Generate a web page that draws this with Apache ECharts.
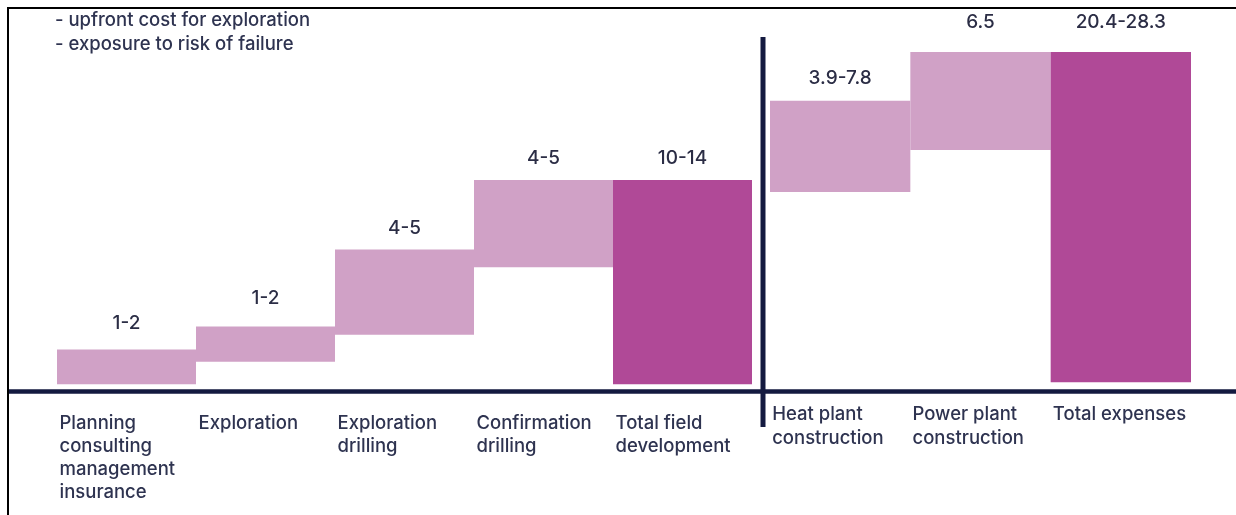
<!DOCTYPE html>
<html>
<head>
<meta charset="utf-8">
<script src="https://cdn.jsdelivr.net/npm/echarts@6/dist/echarts.min.js"></script>
<style>
html,body{margin:0;padding:0;background:#fff;}
#chart{width:1236px;height:515px;}
</style>
</head>
<body>
<div id="chart"></div>
<script>
// ---- data (schematic units) ----
const notes = ['- upfront cost for exploration', '- exposure to risk of failure'];
const leftCategories = ['Planning\nconsulting\nmanagement\ninsurance', 'Exploration', 'Exploration\ndrilling', 'Confirmation\ndrilling', 'Total field\ndevelopment'];
const leftLow = [0, 6.8, 14.9, 35.2, 0];
const leftHigh = [10.5, 17.4, 40.6, 61.5, 61.5];
const leftLabels = ['1-2', '1-2', '4-5', '4-5', '10-14'];
const leftIsTotal = [false, false, false, false, true];

const rightCategories = ['Heat plant\nconstruction', 'Power plant\nconstruction', 'Total expenses'];
const rightLow = [57.9, 70.5, 0.6];
const rightHigh = [85.3, 100, 100];
const rightLabels = ['3.9-7.8', '6.5', '20.4-28.3'];
const rightIsTotal = [false, false, true];

// ---- styles ----
const LIGHT = '#d0a1c6';
const DARK = '#b04997';
const NAVY = '#141a40';
const TEXT = '#2e3350';
const FONT = 'Inter';
const leftLabelDist = [17, 19, 12, 12, 12];
const rightLabelDist = [13, 20, 20];

function rangeData(low, high, labels, isTotal, dist) {
  return high.map((h, i) => ({
    value: +(h - low[i]).toFixed(2),
    itemStyle: { color: isTotal[i] ? DARK : LIGHT },
    label: { distance: dist[i] }
  }));
}

function makeSeries(axisIdx, low, high, labels, isTotal, dist, stack) {
  return [
    {
      type: 'bar', xAxisIndex: axisIdx, yAxisIndex: axisIdx, stack: stack,
      data: low, barWidth: '100%', silent: true,
      itemStyle: { color: 'transparent' }
    },
    {
      type: 'bar', xAxisIndex: axisIdx, yAxisIndex: axisIdx, stack: stack,
      data: rangeData(low, high, labels, isTotal, dist), barWidth: '100%',
      label: {
        show: true, position: 'top',
        formatter: p => labels[p.dataIndex],
        fontFamily: FONT, fontSize: 19, fontWeight: 500, color: '#2b2d45'
      }
    }
  ];
}

function catAxis(gridIndex, cats, margin, width, lh) {
  return {
    type: 'category', gridIndex: gridIndex, data: cats,
    axisLine: { show: false }, axisTick: { show: false },
    axisLabel: {
      margin: margin, interval: 0, verticalAlign: 'top',
      formatter: v => '{a|' + v + '}',
      rich: { a: { width: width, align: 'left', fontFamily: FONT, fontSize: 18.5, fontWeight: 500, lineHeight: lh, color: TEXT } }
    }
  };
}

function valAxis(gridIndex) {
  return {
    type: 'value', gridIndex: gridIndex, min: -2, max: 100,
    show: false, splitLine: { show: false }
  };
}

const chart = echarts.init(document.getElementById('chart'), null, { renderer: 'canvas' });
chart.setOption({
  animation: false,
  backgroundColor: '#fff',
  title: {
    text: notes.join('\n'), left: 55, top: 8, padding: 0,
    textStyle: { fontFamily: FONT, fontSize: 18.5, lineHeight: 24, fontWeight: 500, color: TEXT }
  },
  grid: [
    { left: 57, right: 484, top: 52, bottom: 124 },
    { left: 770, right: 45, top: 52, bottom: 124 }
  ],
  xAxis: [
    catAxis(0, leftCategories, 21, 134, 23),
    catAxis(1, rightCategories, 11, 136, 24)
  ],
  yAxis: [valAxis(0), valAxis(1)],
  series: [
    ...makeSeries(0, leftLow, leftHigh, leftLabels, leftIsTotal, leftLabelDist, 'L'),
    ...makeSeries(1, rightLow, rightHigh, rightLabels, rightIsTotal, rightLabelDist, 'R')
  ],
  graphic: [
    { type: 'rect', shape: { x: 8, y: 8, width: 1260, height: 540 }, style: { fill: 'none', stroke: '#000', lineWidth: 2 }, silent: true },
    { type: 'line', shape: { x1: 9, y1: 391.5, x2: 1236, y2: 391.5 }, style: { stroke: NAVY, lineWidth: 4.5 }, silent: true },
    { type: 'line', shape: { x1: 763, y1: 37, x2: 763, y2: 427 }, style: { stroke: NAVY, lineWidth: 5 }, silent: true }
  ]
});
</script>
</body>
</html>
